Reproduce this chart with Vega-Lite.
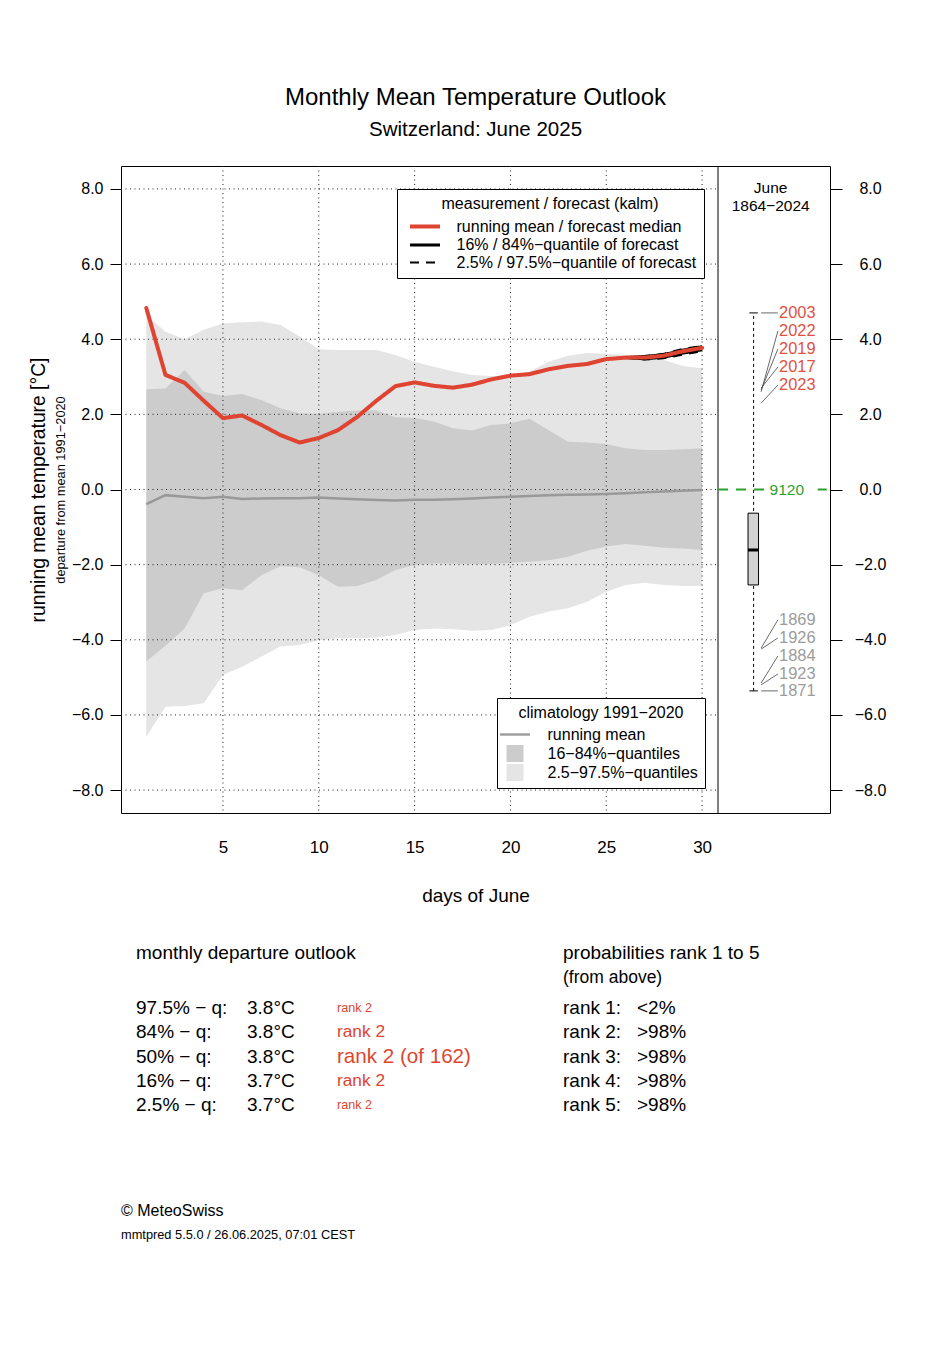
{
  "$schema": "https://vega.github.io/schema/vega-lite/v6.json",
  "width": 709,
  "height": 647,
  "autosize": {"type": "none"},
  "padding": {"left": 121, "top": 166, "right": 122, "bottom": 532},
  "background": "white",
  "title": {
    "text": "Monthly Mean Temperature Outlook",
    "subtitle": "Switzerland: June 2025",
    "anchor": "middle",
    "frame": "group",
    "fontSize": 24,
    "fontWeight": "normal",
    "color": "#000",
    "subtitleFontSize": 20.5,
    "subtitleColor": "#000",
    "subtitlePadding": 10,
    "offset": 25.5
  },
  "config": {
    "font": "Liberation Sans",
    "view": {"stroke": "#000", "strokeWidth": 1},
    "axis": {"labelFont": "Liberation Sans", "titleFont": "Liberation Sans", "labelColor": "#000", "titleColor": "#000", "tickColor": "#000", "titleFontWeight": "normal", "grid": false, "domain": false},
    "legend": {"labelFont": "Liberation Sans", "titleFont": "Liberation Sans", "labelColor": "#000", "titleColor": "#000", "titleFontWeight": "normal", "labelFontSize": 16, "titleFontSize": 16, "labelLimit": 500, "titleLimit": 500},
    "title": {"font": "Liberation Sans", "subtitleFont": "Liberation Sans"}
  },
  "datasets": {
    "clim": [
      {"day": 1, "q025": -6.58, "q16": -4.58, "q84": 2.67, "q975": 4.65, "mean": -0.39},
      {"day": 2, "q025": -5.78, "q16": -4.16, "q84": 2.69, "q975": 4.2, "mean": -0.15},
      {"day": 3, "q025": -5.76, "q16": -3.7, "q84": 3.18, "q975": 4.0, "mean": -0.19},
      {"day": 4, "q025": -5.69, "q16": -2.76, "q84": 2.6, "q975": 4.25, "mean": -0.23},
      {"day": 5, "q025": -4.94, "q16": -2.63, "q84": 2.49, "q975": 4.42, "mean": -0.19},
      {"day": 6, "q025": -4.72, "q16": -2.68, "q84": 2.54, "q975": 4.45, "mean": -0.25},
      {"day": 7, "q025": -4.45, "q16": -2.28, "q84": 2.38, "q975": 4.47, "mean": -0.24},
      {"day": 8, "q025": -4.18, "q16": -2.04, "q84": 2.16, "q975": 4.38, "mean": -0.23},
      {"day": 9, "q025": -4.14, "q16": -2.07, "q84": 2.03, "q975": 4.07, "mean": -0.23},
      {"day": 10, "q025": -4.01, "q16": -2.28, "q84": 2.01, "q975": 3.73, "mean": -0.21},
      {"day": 11, "q025": -3.96, "q16": -2.59, "q84": 2.07, "q975": 3.71, "mean": -0.24},
      {"day": 12, "q025": -3.96, "q16": -2.57, "q84": 2.1, "q975": 3.71, "mean": -0.26},
      {"day": 13, "q025": -3.94, "q16": -2.41, "q84": 2.1, "q975": 3.71, "mean": -0.28},
      {"day": 14, "q025": -3.87, "q16": -2.14, "q84": 1.92, "q975": 3.58, "mean": -0.29},
      {"day": 15, "q025": -3.74, "q16": -2.01, "q84": 1.9, "q975": 3.4, "mean": -0.27},
      {"day": 16, "q025": -3.7, "q16": -1.97, "q84": 1.81, "q975": 3.27, "mean": -0.27},
      {"day": 17, "q025": -3.72, "q16": -1.97, "q84": 1.63, "q975": 3.15, "mean": -0.26},
      {"day": 18, "q025": -3.76, "q16": -1.98, "q84": 1.57, "q975": 3.05, "mean": -0.24},
      {"day": 19, "q025": -3.74, "q16": -1.98, "q84": 1.72, "q975": 3.02, "mean": -0.21},
      {"day": 20, "q025": -3.61, "q16": -1.95, "q84": 1.76, "q975": 3.02, "mean": -0.19},
      {"day": 21, "q025": -3.39, "q16": -1.92, "q84": 1.88, "q975": 3.14, "mean": -0.17},
      {"day": 22, "q025": -3.25, "q16": -1.88, "q84": 1.58, "q975": 3.4, "mean": -0.15},
      {"day": 23, "q025": -3.16, "q16": -1.79, "q84": 1.27, "q975": 3.56, "mean": -0.14},
      {"day": 24, "q025": -2.99, "q16": -1.63, "q84": 1.25, "q975": 3.63, "mean": -0.13},
      {"day": 25, "q025": -2.72, "q16": -1.52, "q84": 1.21, "q975": 3.61, "mean": -0.12},
      {"day": 26, "q025": -2.54, "q16": -1.45, "q84": 1.1, "q975": 3.58, "mean": -0.1},
      {"day": 27, "q025": -2.48, "q16": -1.5, "q84": 1.05, "q975": 3.54, "mean": -0.07},
      {"day": 28, "q025": -2.54, "q16": -1.55, "q84": 1.05, "q975": 3.45, "mean": -0.05},
      {"day": 29, "q025": -2.57, "q16": -1.57, "q84": 1.07, "q975": 3.29, "mean": -0.03},
      {"day": 30, "q025": -2.57, "q16": -1.61, "q84": 1.1, "q975": 3.23, "mean": -0.01}
    ],
    "obs": [
      {"day": 1, "v": 4.83}, {"day": 2, "v": 3.05}, {"day": 3, "v": 2.84}, {"day": 4, "v": 2.36},
      {"day": 5, "v": 1.9}, {"day": 6, "v": 1.97}, {"day": 7, "v": 1.72}, {"day": 8, "v": 1.45},
      {"day": 9, "v": 1.25}, {"day": 10, "v": 1.37}, {"day": 11, "v": 1.58}, {"day": 12, "v": 1.93},
      {"day": 13, "v": 2.36}, {"day": 14, "v": 2.75}, {"day": 15, "v": 2.85}, {"day": 16, "v": 2.76},
      {"day": 17, "v": 2.71}, {"day": 18, "v": 2.79}, {"day": 19, "v": 2.93}, {"day": 20, "v": 3.03},
      {"day": 21, "v": 3.07}, {"day": 22, "v": 3.2}, {"day": 23, "v": 3.29}, {"day": 24, "v": 3.34},
      {"day": 25, "v": 3.47}, {"day": 26, "v": 3.51}, {"day": 27, "v": 3.51}, {"day": 28, "v": 3.56},
      {"day": 29, "v": 3.68}, {"day": 30, "v": 3.77}
    ],
    "fc": [
      {"day": 26, "q": "q025", "kind": "outer", "v": 3.51},
      {"day": 27, "q": "q025", "kind": "outer", "v": 3.46},
      {"day": 28, "q": "q025", "kind": "outer", "v": 3.49},
      {"day": 29, "q": "q025", "kind": "outer", "v": 3.59},
      {"day": 30, "q": "q025", "kind": "outer", "v": 3.68},
      {"day": 26, "q": "q975", "kind": "outer", "v": 3.51},
      {"day": 27, "q": "q975", "kind": "outer", "v": 3.55},
      {"day": 28, "q": "q975", "kind": "outer", "v": 3.61},
      {"day": 29, "q": "q975", "kind": "outer", "v": 3.74},
      {"day": 30, "q": "q975", "kind": "outer", "v": 3.82},
      {"day": 26, "q": "q16", "kind": "inner", "v": 3.51},
      {"day": 27, "q": "q16", "kind": "inner", "v": 3.48},
      {"day": 28, "q": "q16", "kind": "inner", "v": 3.52},
      {"day": 29, "q": "q16", "kind": "inner", "v": 3.63},
      {"day": 30, "q": "q16", "kind": "inner", "v": 3.72},
      {"day": 26, "q": "q84", "kind": "inner", "v": 3.51},
      {"day": 27, "q": "q84", "kind": "inner", "v": 3.54},
      {"day": 28, "q": "q84", "kind": "inner", "v": 3.59},
      {"day": 29, "q": "q84", "kind": "inner", "v": 3.71},
      {"day": 30, "q": "q84", "kind": "inner", "v": 3.8}
    ],
    "gx": [{"d": 5}, {"d": 10}, {"d": 15}, {"d": 20}, {"d": 25}, {"d": 30}],
    "gy": [{"v": -8}, {"v": -6}, {"v": -4}, {"v": -2}, {"v": 0}, {"v": 2}, {"v": 4}, {"v": 6}, {"v": 8}],
    "box": [{"lo": -5.36, "q1": -2.54, "med": -1.61, "q3": -0.63, "hi": 4.7}],
    "ref": [{"v": 0, "label": "9120"}],
    "years": [
      {"year": "2003", "grp": "top", "value": 4.7, "label_y": 4.7},
      {"year": "2022", "grp": "top", "value": 2.6, "label_y": 4.22},
      {"year": "2019", "grp": "top", "value": 2.65, "label_y": 3.74},
      {"year": "2017", "grp": "top", "value": 2.7, "label_y": 3.26},
      {"year": "2023", "grp": "top", "value": 2.3, "label_y": 2.78},
      {"year": "1869", "grp": "bottom", "value": -4.22, "label_y": -3.47},
      {"year": "1926", "grp": "bottom", "value": -4.25, "label_y": -3.95},
      {"year": "1884", "grp": "bottom", "value": -5.15, "label_y": -4.43},
      {"year": "1923", "grp": "bottom", "value": -5.2, "label_y": -4.91},
      {"year": "1871", "grp": "bottom", "value": -5.36, "label_y": -5.36}
    ],
    "txt": [
      {"col": 1, "line": 1, "text": "monthly departure outlook"},
      {"col": 4, "line": 1, "text": "probabilities rank 1 to 5"},
      {"col": 1, "line": 3, "text": "97.5% − q:"}, {"col": 2, "line": 3, "text": "3.8°C"}, {"col": 4, "line": 3, "text": "rank 1:"}, {"col": 5, "line": 3, "text": "<2%"},
      {"col": 1, "line": 4, "text": "84% − q:"}, {"col": 2, "line": 4, "text": "3.8°C"}, {"col": 4, "line": 4, "text": "rank 2:"}, {"col": 5, "line": 4, "text": ">98%"},
      {"col": 1, "line": 5, "text": "50% − q:"}, {"col": 2, "line": 5, "text": "3.8°C"}, {"col": 4, "line": 5, "text": "rank 3:"}, {"col": 5, "line": 5, "text": ">98%"},
      {"col": 1, "line": 6, "text": "16% − q:"}, {"col": 2, "line": 6, "text": "3.7°C"}, {"col": 4, "line": 6, "text": "rank 4:"}, {"col": 5, "line": 6, "text": ">98%"},
      {"col": 1, "line": 7, "text": "2.5% − q:"}, {"col": 2, "line": 7, "text": "3.7°C"}, {"col": 4, "line": 7, "text": "rank 5:"}, {"col": 5, "line": 7, "text": ">98%"}
    ],
    "txt_small": [{"col": 4, "line": 2, "text": "(from above)"}],
    "ranks": [
      {"col": 3, "line": 3, "q": "97.5", "tier": "outer", "text": "rank 2"},
      {"col": 3, "line": 4, "q": "84", "tier": "inner", "text": "rank 2"},
      {"col": 3, "line": 5, "q": "50", "tier": "median", "text": "rank 2 (of 162)"},
      {"col": 3, "line": 6, "q": "16", "tier": "inner", "text": "rank 2"},
      {"col": 3, "line": 7, "q": "2.5", "tier": "outer", "text": "rank 2"}
    ],
    "footer": [
      {"col": 0, "line": 8, "text": "© MeteoSwiss"},
      {"col": 0, "line": 9, "text": "mmtpred 5.5.0 / 26.06.2025, 07:01 CEST"}
    ]
  },
  "resolve": {"scale": {"x": "independent", "y": "independent"}, "axis": {"x": "independent", "y": "independent"}},
  "layer": [
    {
      "data": {"name": "clim"},
      "mark": {"type": "area", "opacity": 1},
      "encoding": {
        "x": {"field": "day", "type": "quantitative", "scale": {"domain": [-0.32, 30.83], "range": [0, 597], "nice": false, "zero": false},
              "axis": {"values": [5, 10, 15, 20, 25, 30], "format": "d", "title": "days of June", "titleFontSize": 19, "labelFontSize": 17, "ticks": false, "labelPadding": 26, "titleX": 354.5, "titleY": 82, "titleBaseline": "middle", "titleAlign": "center"}},
        "y": {"field": "q025", "type": "quantitative", "scale": {"domain": [-8.61, 8.61], "nice": false, "zero": false},
              "axis": {"orient": "left", "values": [-8, -6, -4, -2, 0, 2, 4, 6, 8], "format": ".1f", "tickSize": 11, "labelPadding": 7, "labelFontSize": 16, "title": "departure from mean 1991−2020", "titleFontSize": 12.8, "titlePadding": 3.5}},
        "y2": {"field": "q975"},
        "color": {"datum": "2.5−97.5%−quantiles", "type": "nominal",
                  "scale": {"domain": ["running mean", "16−84%−quantiles", "2.5−97.5%−quantiles"], "range": ["#999999", "#cccccc", "#e5e5e5"]},
                  "legend": {"title": "climatology 1991−2020", "orient": "none", "legendX": 376, "legendY": 532, "titleAnchor": "middle", "strokeColor": "#000", "fillColor": "#fff", "padding": 7, "symbolSize": 289, "symbolStrokeWidth": 0, "symbolOffset": 2.5, "labelOffset": 24, "rowPadding": 2, "titlePadding": 5}}
      }
    },
    {
      "data": {"values": []},
      "mark": {"type": "point", "filled": true},
      "encoding": {
        "x": {"field": "day", "type": "quantitative", "scale": {"domain": [-0.32, 30.83], "range": [0, 597], "nice": false, "zero": false}, "axis": null},
        "y": {"field": "v", "type": "quantitative", "scale": {"domain": [-8.61, 8.61], "nice": false, "zero": false}, "axis": null},
        "shape": {"datum": "running mean", "type": "nominal",
                  "scale": {"domain": ["running mean", "16−84%−quantiles", "2.5−97.5%−quantiles"], "range": ["M-1.76,-0.14L1.76,-0.14L1.76,0.14L-1.76,0.14Z", "square", "square"]},
                  "legend": {"title": "climatology 1991−2020", "orient": "none", "legendX": 376, "legendY": 532, "titleAnchor": "middle", "strokeColor": "#000", "fillColor": "#fff", "padding": 7, "symbolSize": 289, "symbolStrokeWidth": 0, "symbolOffset": 2.5, "labelOffset": 24, "rowPadding": 2, "titlePadding": 5}}
      }
    },
    {
      "data": {"name": "clim"},
      "mark": {"type": "area", "opacity": 1, "fill": "#cccccc"},
      "encoding": {
        "x": {"field": "day", "type": "quantitative", "scale": {"domain": [-0.32, 30.83], "range": [0, 597], "nice": false, "zero": false}, "axis": null},
        "y": {"field": "q16", "type": "quantitative", "scale": {"domain": [-8.61, 8.61], "nice": false, "zero": false},
              "axis": {"orient": "left", "labels": false, "ticks": false, "title": "running mean temperature [°C]", "titleFontSize": 19.3, "titlePadding": 73}},
        "y2": {"field": "q84"}
      }
    },
    {
      "data": {"name": "gx"},
      "mark": {"type": "rule", "color": "#222", "strokeWidth": 1, "strokeDash": [1, 3.5]},
      "encoding": {
        "x": {"field": "d", "type": "quantitative", "scale": {"domain": [-0.32, 30.83], "range": [0, 597], "nice": false, "zero": false}, "axis": null}
      }
    },
    {
      "data": {"name": "gy"},
      "mark": {"type": "rule", "color": "#222", "strokeWidth": 1, "strokeDash": [1, 3.5]},
      "encoding": {
        "x": {"datum": -0.32, "type": "quantitative", "scale": {"domain": [-0.32, 30.83], "range": [0, 597], "nice": false, "zero": false}, "axis": null},
        "x2": {"datum": 30.83},
        "y": {"field": "v", "type": "quantitative", "scale": {"domain": [-8.61, 8.61], "nice": false, "zero": false}, "axis": null}
      }
    },
    {
      "data": {"name": "clim"},
      "mark": {"type": "line", "strokeWidth": 2.5, "stroke": "#999999"},
      "encoding": {
        "x": {"field": "day", "type": "quantitative", "scale": {"domain": [-0.32, 30.83], "range": [0, 597], "nice": false, "zero": false}, "axis": null},
        "y": {"field": "mean", "type": "quantitative", "scale": {"domain": [-8.61, 8.61], "nice": false, "zero": false}, "axis": null}
      }
    },
    {
      "data": {"name": "fc"},
      "transform": [{"filter": "datum.kind === 'outer'"}],
      "mark": {"type": "line"},
      "encoding": {
        "x": {"field": "day", "type": "quantitative", "scale": {"domain": [-0.32, 30.83], "range": [0, 597], "nice": false, "zero": false}, "axis": null},
        "y": {"field": "v", "type": "quantitative", "scale": {"domain": [-8.61, 8.61], "nice": false, "zero": false}, "axis": null},
        "detail": {"field": "q"},
        "stroke": {"datum": "2.5% / 97.5%−quantile of forecast", "type": "nominal",
                   "scale": {"domain": ["running mean / forecast median", "16% / 84%−quantile of forecast", "2.5% / 97.5%−quantile of forecast"], "range": ["#df4331", "#000000", "#000000"]},
                   "legend": {"title": "measurement / forecast (kalm)", "orient": "none", "legendX": 276, "legendY": 23, "titleAnchor": "middle", "strokeColor": "#000", "fillColor": "#fff", "padding": 7, "symbolType": "M-2,0L2,0", "symbolSize": 225, "symbolOffset": 11.5, "labelOffset": 22, "rowPadding": 1, "titlePadding": 5}},
        "strokeDash": {"datum": "2.5% / 97.5%−quantile of forecast", "type": "nominal",
                       "scale": {"domain": ["running mean / forecast median", "16% / 84%−quantile of forecast", "2.5% / 97.5%−quantile of forecast"], "range": [[1, 0], [1, 0], [9, 7]]},
                       "legend": {"title": "measurement / forecast (kalm)", "orient": "none", "legendX": 276, "legendY": 23}},
        "strokeWidth": {"datum": "2.5% / 97.5%−quantile of forecast", "type": "nominal",
                        "scale": {"domain": ["running mean / forecast median", "16% / 84%−quantile of forecast", "2.5% / 97.5%−quantile of forecast"], "range": [4, 2, 2]},
                        "legend": {"title": "measurement / forecast (kalm)", "orient": "none", "legendX": 276, "legendY": 23}}
      }
    },
    {
      "data": {"name": "fc"},
      "transform": [{"filter": "datum.kind === 'inner'"}],
      "mark": {"type": "line"},
      "encoding": {
        "x": {"field": "day", "type": "quantitative", "scale": {"domain": [-0.32, 30.83], "range": [0, 597], "nice": false, "zero": false}, "axis": null},
        "y": {"field": "v", "type": "quantitative", "scale": {"domain": [-8.61, 8.61], "nice": false, "zero": false}, "axis": null},
        "detail": {"field": "q"},
        "stroke": {"datum": "16% / 84%−quantile of forecast", "type": "nominal"},
        "strokeDash": {"datum": "16% / 84%−quantile of forecast", "type": "nominal"},
        "strokeWidth": {"datum": "16% / 84%−quantile of forecast", "type": "nominal"}
      }
    },
    {
      "data": {"name": "obs"},
      "mark": {"type": "line", "strokeCap": "round", "strokeJoin": "round"},
      "encoding": {
        "x": {"field": "day", "type": "quantitative", "scale": {"domain": [-0.32, 30.83], "range": [0, 597], "nice": false, "zero": false}, "axis": null},
        "y": {"field": "v", "type": "quantitative", "scale": {"domain": [-8.61, 8.61], "nice": false, "zero": false}, "axis": null},
        "stroke": {"datum": "running mean / forecast median", "type": "nominal"},
        "strokeDash": {"datum": "running mean / forecast median", "type": "nominal"},
        "strokeWidth": {"datum": "running mean / forecast median", "type": "nominal"}
      }
    },
    {
      "data": {"values": [{}]},
      "mark": {"type": "rule", "color": "#000", "strokeWidth": 1},
      "encoding": {
        "x": {"datum": 0, "type": "quantitative", "scale": {"domain": [0, 1], "range": [597, 709], "nice": false, "zero": false}, "axis": null}
      }
    },
    {
      "data": {"name": "box"},
      "mark": {"type": "rule", "color": "#000", "strokeWidth": 1, "strokeDash": [3, 3]},
      "encoding": {
        "x": {"datum": 0.318, "type": "quantitative", "scale": {"domain": [0, 1], "range": [597, 709], "nice": false, "zero": false}, "axis": null},
        "y": {"field": "lo", "type": "quantitative", "scale": {"domain": [-8.61, 8.61], "nice": false, "zero": false},
              "axis": {"orient": "right", "values": [-8, -6, -4, -2, 0, 2, 4, 6, 8], "format": ".1f", "tickSize": 12, "labelPadding": 28, "labelAlign": "center", "labelFontSize": 16, "title": null}},
        "y2": {"field": "hi"}
      }
    },
    {
      "data": {"name": "box"},
      "transform": [{"fold": ["lo", "hi"], "as": ["end", "val"]}],
      "mark": {"type": "rule", "color": "#000", "strokeWidth": 1},
      "encoding": {
        "x": {"datum": 0.28, "type": "quantitative", "scale": {"domain": [0, 1], "range": [597, 709], "nice": false, "zero": false}, "axis": null},
        "x2": {"datum": 0.356},
        "y": {"field": "val", "type": "quantitative", "scale": {"domain": [-8.61, 8.61], "nice": false, "zero": false}, "axis": null}
      }
    },
    {
      "data": {"name": "box"},
      "mark": {"type": "rect", "fill": "#d3d3d3", "stroke": "#000", "strokeWidth": 1},
      "encoding": {
        "x": {"datum": 0.268, "type": "quantitative", "scale": {"domain": [0, 1], "range": [597, 709], "nice": false, "zero": false}, "axis": null},
        "x2": {"datum": 0.362},
        "y": {"field": "q3", "type": "quantitative", "scale": {"domain": [-8.61, 8.61], "nice": false, "zero": false}, "axis": null},
        "y2": {"field": "q1"}
      }
    },
    {
      "data": {"name": "box"},
      "mark": {"type": "rule", "color": "#000", "strokeWidth": 3},
      "encoding": {
        "x": {"datum": 0.268, "type": "quantitative", "scale": {"domain": [0, 1], "range": [597, 709], "nice": false, "zero": false}, "axis": null},
        "x2": {"datum": 0.362},
        "y": {"field": "med", "type": "quantitative", "scale": {"domain": [-8.61, 8.61], "nice": false, "zero": false}, "axis": null}
      }
    },
    {
      "data": {"name": "ref"},
      "mark": {"type": "rule", "color": "#2ca02c", "strokeWidth": 2, "strokeDash": [10, 8]},
      "encoding": {
        "x": {"datum": 0, "type": "quantitative", "scale": {"domain": [0, 1], "range": [597, 709], "nice": false, "zero": false}, "axis": null},
        "x2": {"datum": 0.42},
        "y": {"field": "v", "type": "quantitative", "scale": {"domain": [-8.61, 8.61], "nice": false, "zero": false}, "axis": null}
      }
    },
    {
      "data": {"name": "ref"},
      "mark": {"type": "rule", "color": "#2ca02c", "strokeWidth": 2, "strokeDash": [9, 8]},
      "encoding": {
        "x": {"datum": 0.89, "type": "quantitative", "scale": {"domain": [0, 1], "range": [597, 709], "nice": false, "zero": false}, "axis": null},
        "x2": {"datum": 1},
        "y": {"field": "v", "type": "quantitative", "scale": {"domain": [-8.61, 8.61], "nice": false, "zero": false}, "axis": null}
      }
    },
    {
      "data": {"name": "ref"},
      "mark": {"type": "text", "color": "#2ca02c", "fontSize": 15.5, "align": "left", "baseline": "middle"},
      "encoding": {
        "x": {"datum": 0.46, "type": "quantitative", "scale": {"domain": [0, 1], "range": [597, 709], "nice": false, "zero": false}, "axis": null},
        "y": {"field": "v", "type": "quantitative", "scale": {"domain": [-8.61, 8.61], "nice": false, "zero": false}, "axis": null},
        "text": {"field": "label"}
      }
    },
    {
      "data": {"name": "years"},
      "mark": {"type": "rule", "color": "#444", "strokeWidth": 0.8},
      "encoding": {
        "x": {"datum": 0.385, "type": "quantitative", "scale": {"domain": [0, 1], "range": [597, 709], "nice": false, "zero": false}, "axis": null},
        "x2": {"datum": 0.535},
        "y": {"field": "value", "type": "quantitative", "scale": {"domain": [-8.61, 8.61], "nice": false, "zero": false}, "axis": null},
        "y2": {"field": "label_y"}
      }
    },
    {
      "data": {"name": "years"},
      "transform": [{"filter": "datum.grp === 'top'"}],
      "mark": {"type": "text", "color": "#e0523f", "fontSize": 16.4, "align": "left", "baseline": "middle"},
      "encoding": {
        "x": {"datum": 0.545, "type": "quantitative", "scale": {"domain": [0, 1], "range": [597, 709], "nice": false, "zero": false}, "axis": null},
        "y": {"field": "label_y", "type": "quantitative", "scale": {"domain": [-8.61, 8.61], "nice": false, "zero": false}, "axis": null},
        "text": {"field": "year"}
      }
    },
    {
      "data": {"name": "years"},
      "transform": [{"filter": "datum.grp === 'bottom'"}],
      "mark": {"type": "text", "color": "#9c9c9c", "fontSize": 16.4, "align": "left", "baseline": "middle"},
      "encoding": {
        "x": {"datum": 0.545, "type": "quantitative", "scale": {"domain": [0, 1], "range": [597, 709], "nice": false, "zero": false}, "axis": null},
        "y": {"field": "label_y", "type": "quantitative", "scale": {"domain": [-8.61, 8.61], "nice": false, "zero": false}, "axis": null},
        "text": {"field": "year"}
      }
    },
    {
      "data": {"values": [{"text": "June\n1864−2024"}]},
      "mark": {"type": "text", "color": "#000", "fontSize": 15.5, "align": "center", "baseline": "top", "lineBreak": "\n", "lineHeight": 18},
      "encoding": {
        "x": {"datum": 0.47, "type": "quantitative", "scale": {"domain": [0, 1], "range": [597, 709], "nice": false, "zero": false}, "axis": null},
        "y": {"datum": 8.22, "type": "quantitative", "scale": {"domain": [-8.61, 8.61], "nice": false, "zero": false}, "axis": null},
        "text": {"field": "text"}
      }
    },
    {
      "data": {"name": "txt"},
      "mark": {"type": "text", "color": "#000", "fontSize": 19, "align": "left", "baseline": "middle"},
      "encoding": {
        "x": {"field": "col", "type": "quantitative", "scale": {"domain": [0, 1, 2, 3, 4, 5], "range": [0, 15, 126, 216, 442, 516], "nice": false, "zero": false}, "axis": null},
        "y": {"field": "line", "type": "quantitative", "scale": {"domain": [1, 2, 3, 7, 8, 9], "range": [787, 812, 842, 939, 1045, 1069], "nice": false, "zero": false}, "axis": null},
        "text": {"field": "text"}
      }
    },
    {
      "data": {"name": "txt_small"},
      "mark": {"type": "text", "color": "#000", "fontSize": 17.5, "align": "left", "baseline": "middle"},
      "encoding": {
        "x": {"field": "col", "type": "quantitative", "scale": {"domain": [0, 1, 2, 3, 4, 5], "range": [0, 15, 126, 216, 442, 516], "nice": false, "zero": false}, "axis": null},
        "y": {"field": "line", "type": "quantitative", "scale": {"domain": [1, 2, 3, 7, 8, 9], "range": [787, 812, 842, 939, 1045, 1069], "nice": false, "zero": false}, "axis": null},
        "text": {"field": "text"}
      }
    },
    {
      "data": {"name": "ranks"},
      "transform": [{"filter": "datum.tier === 'outer'"}],
      "mark": {"type": "text", "color": "#e0452f", "fontSize": 12.6, "align": "left", "baseline": "middle"},
      "encoding": {
        "x": {"field": "col", "type": "quantitative", "scale": {"domain": [0, 1, 2, 3, 4, 5], "range": [0, 15, 126, 216, 442, 516], "nice": false, "zero": false}, "axis": null},
        "y": {"field": "line", "type": "quantitative", "scale": {"domain": [1, 2, 3, 7, 8, 9], "range": [787, 812, 842, 939, 1045, 1069], "nice": false, "zero": false}, "axis": null},
        "text": {"field": "text"}
      }
    },
    {
      "data": {"name": "ranks"},
      "transform": [{"filter": "datum.tier === 'inner'"}],
      "mark": {"type": "text", "color": "#e0452f", "fontSize": 17.3, "align": "left", "baseline": "middle"},
      "encoding": {
        "x": {"field": "col", "type": "quantitative", "scale": {"domain": [0, 1, 2, 3, 4, 5], "range": [0, 15, 126, 216, 442, 516], "nice": false, "zero": false}, "axis": null},
        "y": {"field": "line", "type": "quantitative", "scale": {"domain": [1, 2, 3, 7, 8, 9], "range": [787, 812, 842, 939, 1045, 1069], "nice": false, "zero": false}, "axis": null},
        "text": {"field": "text"}
      }
    },
    {
      "data": {"name": "ranks"},
      "transform": [{"filter": "datum.tier === 'median'"}],
      "mark": {"type": "text", "color": "#e0452f", "fontSize": 20.6, "align": "left", "baseline": "middle"},
      "encoding": {
        "x": {"field": "col", "type": "quantitative", "scale": {"domain": [0, 1, 2, 3, 4, 5], "range": [0, 15, 126, 216, 442, 516], "nice": false, "zero": false}, "axis": null},
        "y": {"field": "line", "type": "quantitative", "scale": {"domain": [1, 2, 3, 7, 8, 9], "range": [787, 812, 842, 939, 1045, 1069], "nice": false, "zero": false}, "axis": null},
        "text": {"field": "text"}
      }
    },
    {
      "data": {"name": "footer"},
      "transform": [{"filter": "datum.line === 8"}],
      "mark": {"type": "text", "color": "#000", "fontSize": 16, "align": "left", "baseline": "middle"},
      "encoding": {
        "x": {"field": "col", "type": "quantitative", "scale": {"domain": [0, 1, 2, 3, 4, 5], "range": [0, 15, 126, 216, 442, 516], "nice": false, "zero": false}, "axis": null},
        "y": {"field": "line", "type": "quantitative", "scale": {"domain": [1, 2, 3, 7, 8, 9], "range": [787, 812, 842, 939, 1045, 1069], "nice": false, "zero": false}, "axis": null},
        "text": {"field": "text"}
      }
    },
    {
      "data": {"name": "footer"},
      "transform": [{"filter": "datum.line === 9"}],
      "mark": {"type": "text", "color": "#000", "fontSize": 12.8, "align": "left", "baseline": "middle"},
      "encoding": {
        "x": {"field": "col", "type": "quantitative", "scale": {"domain": [0, 1, 2, 3, 4, 5], "range": [0, 15, 126, 216, 442, 516], "nice": false, "zero": false}, "axis": null},
        "y": {"field": "line", "type": "quantitative", "scale": {"domain": [1, 2, 3, 7, 8, 9], "range": [787, 812, 842, 939, 1045, 1069], "nice": false, "zero": false}, "axis": null},
        "text": {"field": "text"}
      }
    }
  ]
}
